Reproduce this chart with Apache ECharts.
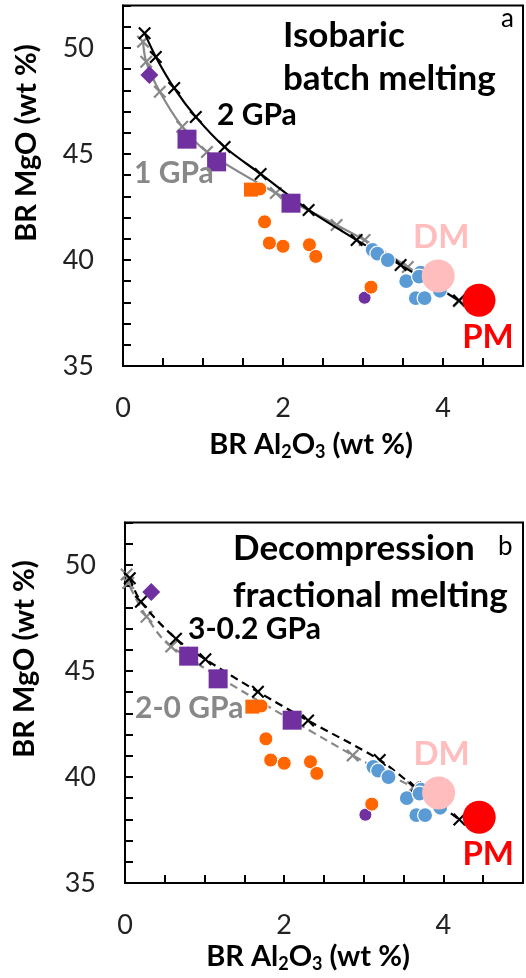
<!DOCTYPE html>
<html>
<head>
<meta charset="utf-8">
<script src="https://cdn.jsdelivr.net/npm/echarts@6/dist/echarts.min.js"></script>
<style>
  html, body { margin: 0; padding: 0; background: #fff; }
  #chart { width: 526px; height: 978px; }
</style>
</head>
<body>
<div id="chart"></div>
<script>
// Bulk residue (BR) MgO vs Al2O3, wt %
const xTickLabels = [0, 2, 4];
const yTickLabels = [35, 40, 45, 50];

// Panel a: isobaric batch melting residues
const batch2GPa = [[0.27, 50.70], [0.41, 49.58], [0.64, 48.11], [0.91, 46.75], [1.27, 45.33],
                   [1.72, 44.06], [2.32, 42.36], [2.92, 40.94], [3.47, 39.76], [4.20, 38.09]];
const batch1GPa = [[0.25, 50.30], [0.29, 49.35], [0.46, 47.94], [0.74, 46.29], [1.05, 45.10],
                   [1.91, 43.16], [2.67, 41.65], [3.02, 40.94], [3.56, 39.67], [4.20, 38.05]];

// Panel b: decompression fractional melting residues
const frac3to02GPa = [[0.06, 49.37], [0.20, 48.27], [0.64, 46.52], [1.01, 45.55], [1.67, 44.02],
                      [2.30, 42.66], [3.20, 40.80], [3.65, 39.50], [4.20, 38.00]];
const frac2to0GPa = [[0.02, 49.55], [0.04, 49.15], [0.27, 47.56], [0.58, 46.15], [2.86, 41.02],
                     [3.62, 39.52]];

// Peridotite samples
const purpleCircles = [[3.02, 38.22]];
const orangeCircles = [[1.71, 43.35], [1.77, 41.80], [1.83, 40.80], [2.00, 40.65], [2.33, 40.72],
                       [2.41, 40.17], [3.10, 38.72]];
const orangeSquares = [[1.60, 43.32]];
const purpleSquares = [[0.80, 45.70], [1.17, 44.63], [2.10, 42.68]];
const purpleDiamonds = [[0.33, 48.73]];
const blueCircles = [[3.12, 40.48], [3.18, 40.30], [3.31, 40.00], [3.54, 39.00], [3.72, 39.40],
                     [3.70, 39.22], [3.66, 38.20], [3.77, 38.20], [3.96, 38.55]];

// Reference mantle compositions
const dmPoint = [[3.94, 39.25]];
const pmPoint = [[4.45, 38.10]];

const FONT = 'Lato';
const BLACK = '#000000';
const GREY = '#888888';
const PURPLE = '#7030A0';
const ORANGE = '#FF6600';
const BLUE = '#5B9BD5';
const PINK = '#FFBDBD';
const RED = '#FF0000';

const CROSS = 'path://M0,1.4L1.4,0L6,4.6L10.6,0L12,1.4L7.4,6L12,10.6L10.6,12L6,7.4L1.4,12L0,10.6L4.6,6Z';

const grids = [
  { left: 123, top: 5.6, width: 406, height: 360.4 },
  { left: 125, top: 522.6, width: 402.5, height: 360.4 }
];

function xAxisFor(i) {
  return {
    gridIndex: i, type: 'value', min: 0, max: 5, interval: 0.5,
    axisLine: { show: true, lineStyle: { color: BLACK, width: 2 } },
    axisTick: { show: true, inside: true, length: 8, lineStyle: { color: BLACK, width: 2 } },
    splitLine: { show: false },
    axisLabel: {
      margin: 29, fontFamily: FONT, fontSize: 27, color: '#222',
      formatter: v => xTickLabels.includes(v) ? String(v) : ''
    }
  };
}
function yAxisFor(i) {
  return {
    gridIndex: i, type: 'value', min: 35, max: 52, interval: 1,
    axisLine: { show: true, lineStyle: { color: BLACK, width: 2 } },
    axisTick: { show: true, inside: true, length: 8, lineStyle: { color: BLACK, width: 2 } },
    splitLine: { show: false },
    axisLabel: {
      margin: 29, fontFamily: FONT, fontSize: 27, color: '#222',
      formatter: v => yTickLabels.includes(v) ? String(v) : ''
    }
  };
}

function curve(i, data, color, dashed, z) {
  return {
    type: 'line', xAxisIndex: i, yAxisIndex: i, data: data, smooth: 0.3, z: z,
    symbol: CROSS, symbolSize: 13, showSymbol: true,
    itemStyle: { color: color },
    lineStyle: { color: color, width: 2.2, type: dashed ? [8, 5] : 'solid' }
  };
}
function points(i, data, symbol, size, color, z, border) {
  return {
    type: 'scatter', xAxisIndex: i, yAxisIndex: i, data: data, z: z,
    symbol: symbol, symbolSize: size,
    itemStyle: { color: color, borderColor: '#fff', borderWidth: border, opacity: 1 }
  };
}
function mantle(i, data, name, color, offset, z) {
  return {
    type: 'scatter', xAxisIndex: i, yAxisIndex: i, data: data, z: z,
    symbol: 'circle', symbolSize: 33,
    itemStyle: { color: color, opacity: 1 },
    label: {
      show: true, formatter: name, position: 'inside', offset: offset,
      fontFamily: FONT, fontWeight: 'bold', fontSize: 33, color: color
    }
  };
}
function samples(i) {
  return [
    points(i, purpleCircles, 'circle', 13, PURPLE, 5, 1),
    points(i, orangeCircles, 'circle', 14, ORANGE, 6, 1),
    points(i, orangeSquares, 'rect', 14, ORANGE, 7, 0),
    points(i, purpleSquares, 'rect', 19, PURPLE, 8, 0),
    points(i, purpleDiamonds, 'diamond', 18, PURPLE, 8, 0),
    points(i, blueCircles, 'circle', 15, BLUE, 9, 1.2),
    mantle(i, dmPoint, 'DM', PINK, [3, -39], 10),
    mantle(i, pmPoint, 'PM', RED, [9, 37], 11)
  ];
}

function label(text, x, y, size, color, weight) {
  return {
    type: 'text', x: x, y: y, z: 100,
    style: {
      text: text, fontFamily: FONT, fontWeight: weight || 'bold', fontSize: size,
      fill: color || BLACK, align: 'left', verticalAlign: 'middle'
    }
  };
}
function xTitle(cx, cy) {
  return {
    type: 'text', x: cx, y: cy, z: 100,
    style: {
      text: 'BR Al{s|2}O{s|3} (wt %)', fontFamily: FONT, fontWeight: 'bold', fontSize: 29,
      lineHeight: 32, fill: BLACK, align: 'center', verticalAlign: 'middle',
      rich: { s: { fontFamily: FONT, fontWeight: 'bold', fontSize: 18, lineHeight: 12, verticalAlign: 'bottom', fill: BLACK } }
    }
  };
}
function yTitle(cx, cy) {
  return {
    type: 'text', x: cx, y: cy, rotation: Math.PI / 2, z: 100,
    style: {
      text: 'BR MgO (wt %)', fontFamily: FONT, fontWeight: 'bold', fontSize: 29,
      fill: BLACK, align: 'center', verticalAlign: 'middle'
    }
  };
}

const option = {
  animation: false,
  backgroundColor: '#fff',
  grid: grids.map(g => Object.assign({ show: true, borderColor: BLACK, borderWidth: 2, containLabel: false }, g)),
  xAxis: [xAxisFor(0), xAxisFor(1)],
  yAxis: [yAxisFor(0), yAxisFor(1)],
  series: [
    curve(0, batch1GPa, GREY, false, 2),
    curve(0, batch2GPa, BLACK, false, 3),
    ...samples(0),
    curve(1, frac2to0GPa, GREY, true, 2),
    curve(1, frac3to02GPa, BLACK, true, 3),
    ...samples(1)
  ],
  graphic: [
    label('Isobaric', 283, 36, 35),
    label('batch melting', 283, 79, 35),
    label('a', 501, 19, 26, BLACK, 'normal'),
    label('2 GPa', 217, 115, 30),
    label('1 GPa', 134, 173, 30, GREY),
    label('Decompression', 233, 549, 35),
    label('fractional melting', 233, 596, 35),
    label('b', 498, 547, 26, BLACK, 'normal'),
    label('3-0.2 GPa', 188, 629, 30),
    label('2-0 GPa', 135, 708, 30, GREY),
    yTitle(27, 143), xTitle(311, 445),
    yTitle(25, 659), xTitle(308, 957)
  ]
};

const chart = echarts.init(document.getElementById('chart'), null, { renderer: 'canvas' });
chart.setOption(option);
</script>
</body>
</html>
